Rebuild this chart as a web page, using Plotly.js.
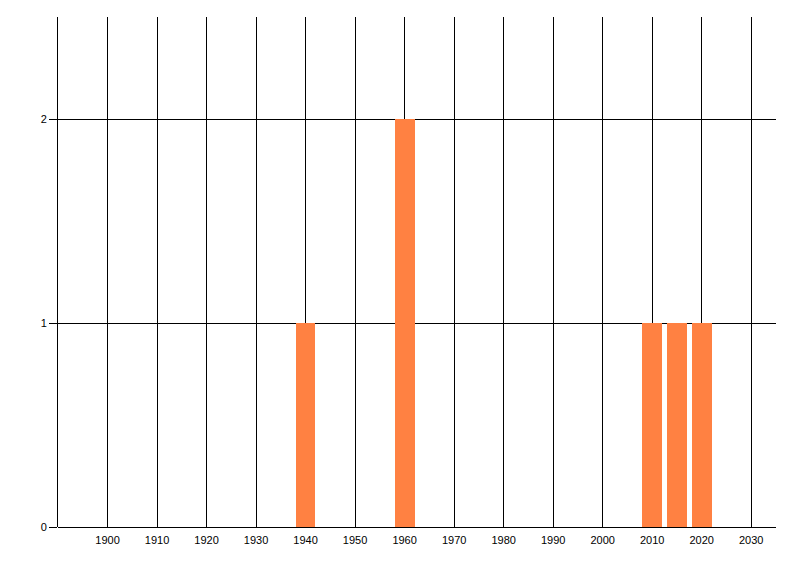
<!DOCTYPE html>
<html>
<head>
<meta charset="utf-8">
<script src="https://cdn.plot.ly/plotly-3.0.1.min.js"></script>
<style>html,body{margin:0;padding:0;background:#fff;}#chart{width:800px;height:576px;}</style>
</head>
<body>
<div id="chart"></div>
<script>
const years = [1940, 1960, 2010, 2015, 2020];
const counts = [1, 2, 1, 1, 1];
const xTicks = [1900, 1910, 1920, 1930, 1940, 1950, 1960, 1970, 1980, 1990, 2000, 2010, 2020, 2030];
const yTicks = [0, 1, 2];

const trace = {
  type: 'bar',
  x: years,
  y: counts,
  width: 4,
  marker: {color: 'rgb(255,129,66)', line: {width: 0}},
  hoverinfo: 'x+y'
};

const layout = {
  width: 800,
  height: 576,
  margin: {l: 58, r: 24, t: 17, b: 49, pad: 0},
  paper_bgcolor: '#ffffff',
  plot_bgcolor: '#ffffff',
  showlegend: false,
  font: {family: 'Liberation Sans, Arial, sans-serif', size: 11, color: '#000'},
  xaxis: {
    range: [1890, 2035],
    tickmode: 'array',
    tickvals: xTicks,
    ticktext: xTicks.map(String),
    showgrid: true,
    gridcolor: '#000',
    gridwidth: 1,
    zeroline: false,
    showline: false,
    ticks: '',
    ticklabelstandoff: 5,
    tickfont: {size: 11, color: '#000'}
  },
  yaxis: {
    range: [0, 2.5],
    tickmode: 'array',
    tickvals: yTicks,
    ticktext: yTicks.map(String),
    showgrid: true,
    gridcolor: '#000',
    gridwidth: 1,
    zeroline: true,
    zerolinecolor: '#000',
    zerolinewidth: 1,
    showline: true,
    linecolor: '#000',
    linewidth: 1,
    ticks: 'outside',
    ticklen: 8,
    tickcolor: '#000',
    tickwidth: 1,
    tickfont: {size: 11, color: '#000'}
  },
  bargap: 0
};

Plotly.newPlot('chart', [trace], layout, {displayModeBar: false, staticPlot: true});
</script>
</body>
</html>
